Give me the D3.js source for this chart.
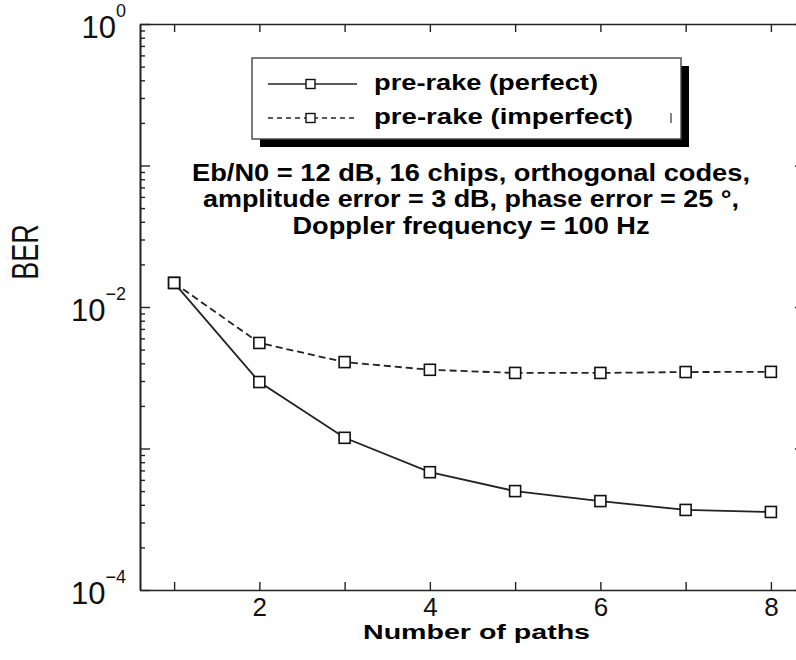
<!DOCTYPE html>
<html>
<head>
<meta charset="utf-8">
<script src="https://cdn.jsdelivr.net/npm/d3@7"></script>
<style>
  body { margin: 0; background: #fff; }
  svg { display: block; font-family: "Liberation Sans", Arial, Helvetica, sans-serif; }
</style>
</head>
<body>
<script>
// data
var paths = [1, 2, 3, 4, 5, 6, 7, 8];
var berPerfect = [0.0148, 0.00295, 0.00119, 0.00068, 0.00050, 0.000425, 0.000368, 0.000356];
var berImperfect = [0.0148, 0.00557, 0.00408, 0.0036, 0.00342, 0.00342, 0.00347, 0.00348];
var xTickLabels = [2, 4, 6, 8];
var yLabelValues = [1, 1e-2, 1e-4];
var yLabelExps = ["0", "\u22122", "\u22124"];
var seriesNames = ["pre-rake (perfect)", "pre-rake (imperfect)"];
var noteLines = [
    "Eb/N0 = 12 dB, 16 chips, orthogonal codes,",
    "amplitude error = 3 dB, phase error = 25 \u00b0,",
    "Doppler frequency = 100 Hz"
];

var width = 796;
var height = 660;
// plot box (right edge falls just outside the picture)
var padLeft = 140, padRight = 805, padTop = 24, padBottom = 590;
var ink = "#222";

var svg = d3.select("body").append("svg").attr("width", width).attr("height", height);

var xScale = d3.scaleLinear().domain([0.6, 8.4]).range([padLeft, padRight]);
var yScale = d3.scaleLog().domain([1e-4, 1]).range([padBottom, padTop]);

var majors = [1e-4, 1e-3, 1e-2, 1e-1, 1];
var minors = [];
majors.slice(0, 4).forEach(function(d) {
    for (var k = 2; k <= 9; k++) minors.push(d * k);
});

function styleAxis(g) {
    g.select(".domain").attr("stroke", ink).attr("stroke-width", 1.6);
    g.selectAll(".tick line").attr("stroke", ink).attr("stroke-width", 1.4);
}

// bottom axis, ticks pointing in
svg.append("g")
    .attr("transform", "translate(0," + padBottom + ")")
    .call(d3.axisBottom(xScale).tickValues(paths).tickSize(-8).tickPadding(8).tickSizeOuter(0)
        .tickFormat(function(d) { return xTickLabels.indexOf(d) >= 0 ? d : ""; }))
    .call(styleAxis)
    .call(function(g) {
        g.attr("font-size", 26).attr("font-family", "Liberation Sans, Arial, sans-serif");
        g.selectAll("text").attr("fill", "#111");
    });

// top axis
svg.append("g")
    .attr("transform", "translate(0," + padTop + ")")
    .call(d3.axisTop(xScale).tickValues(paths).tickSize(-8).tickSizeOuter(0).tickFormat(""))
    .call(styleAxis);

// left axis majors + minors
svg.append("g")
    .attr("transform", "translate(" + padLeft + ",0)")
    .call(d3.axisLeft(yScale).tickValues(majors).tickSize(-10).tickSizeOuter(0).tickFormat(""))
    .call(styleAxis);
svg.append("g")
    .attr("transform", "translate(" + padLeft + ",0)")
    .call(d3.axisLeft(yScale).tickValues(minors).tickSize(-5).tickSizeOuter(0).tickFormat(""))
    .call(styleAxis);

// right axis (mostly off the edge of the picture)
svg.append("g")
    .attr("transform", "translate(" + padRight + ",0)")
    .call(d3.axisRight(yScale).tickValues(majors).tickSize(-10).tickSizeOuter(0).tickFormat(""))
    .call(styleAxis);

// y tick labels 10^n
var ylab = svg.append("g").selectAll("text")
    .data(yLabelValues)
    .enter()
    .append("text")
    .attr("text-anchor", "end")
    .attr("x", 126)
    .attr("y", function(d) { return yScale(d) + 14; })
    .attr("fill", "#111");
ylab.append("tspan").attr("font-size", 31).text("10");
ylab.append("tspan").attr("font-size", 18).attr("dy", -21)
    .text(function(d, i) { return yLabelExps[i]; });

// axis titles
svg.append("text")
    .attr("transform", "translate(38,252) scale(1.35,1) rotate(-90)")
    .attr("text-anchor", "middle")
    .attr("font-size", 27)
    .attr("fill", "#111")
    .text("BER");

svg.append("text")
    .attr("x", 363).attr("y", 639)
    .attr("font-size", 20).attr("font-weight", "bold")
    .attr("textLength", 227).attr("lengthAdjust", "spacingAndGlyphs")
    .text("Number of paths");

// curves
var line = d3.line()
    .x(function(d, i) { return xScale(paths[i]); })
    .y(function(d) { return yScale(d); });

var series = [
    { values: berPerfect, dash: null },
    { values: berImperfect, dash: "7,4" }
];

series.slice().reverse().forEach(function(s) {
    svg.append("path")
        .datum(s.values)
        .attr("d", line)
        .attr("fill", "none")
        .attr("stroke", ink)
        .attr("stroke-width", 1.8)
        .attr("stroke-dasharray", s.dash);
});

series.forEach(function(s) {
    svg.append("g")
        .selectAll("rect")
        .data(s.values)
        .enter()
        .append("rect")
        .attr("x", function(d, i) { return xScale(paths[i]) - 5.5; })
        .attr("y", function(d) { return yScale(d) - 5.5; })
        .attr("width", 11)
        .attr("height", 11)
        .attr("fill", "#fff")
        .attr("stroke", "#111")
        .attr("stroke-width", 1.6);
});

// legend box with drop shadow
var lx = 252, ly = 58, lw = 429, lh = 81;
svg.append("rect").attr("x", lx + 8).attr("y", ly + 8).attr("width", lw).attr("height", lh).attr("fill", "#000");
svg.append("rect").attr("x", lx).attr("y", ly).attr("width", lw).attr("height", lh)
    .attr("fill", "#fff").attr("stroke", "#444").attr("stroke-width", 1.4);

var legendRows = [84, 118];
var legendWidths = [224, 259];
series.forEach(function(s, i) {
    var yy = legendRows[i];
    svg.append("line")
        .attr("x1", 268).attr("x2", 357).attr("y1", yy).attr("y2", yy)
        .attr("stroke", ink).attr("stroke-width", i === 0 ? 1.6 : 1.3)
        .attr("stroke-dasharray", i === 0 ? null : "5,4");
    svg.append("rect")
        .attr("x", 306).attr("y", yy - 4.5).attr("width", 9).attr("height", 9)
        .attr("fill", "#fff").attr("stroke", "#111").attr("stroke-width", 1.4);
    svg.append("text")
        .attr("x", 374).attr("y", yy + 6)
        .attr("font-size", 22).attr("font-weight", "bold").attr("fill", "#000")
        .attr("textLength", legendWidths[i]).attr("lengthAdjust", "spacingAndGlyphs")
        .text(seriesNames[i]);
});
// stray mark inside the legend
svg.append("line").attr("x1", 671).attr("x2", 671).attr("y1", 113).attr("y2", 123)
    .attr("stroke", "#333").attr("stroke-width", 1.2);

// annotation
var noteY = [181, 207, 234];
var noteW = [558, 536, 357];
svg.append("g").selectAll("text")
    .data(noteLines)
    .enter()
    .append("text")
    .attr("x", 471)
    .attr("y", function(d, i) { return noteY[i]; })
    .attr("text-anchor", "middle")
    .attr("font-size", 23)
    .attr("font-weight", "bold")
    .attr("fill", "#000")
    .attr("textLength", function(d, i) { return noteW[i]; })
    .attr("lengthAdjust", "spacingAndGlyphs")
    .text(function(d) { return d; });
</script>
</body>
</html>
